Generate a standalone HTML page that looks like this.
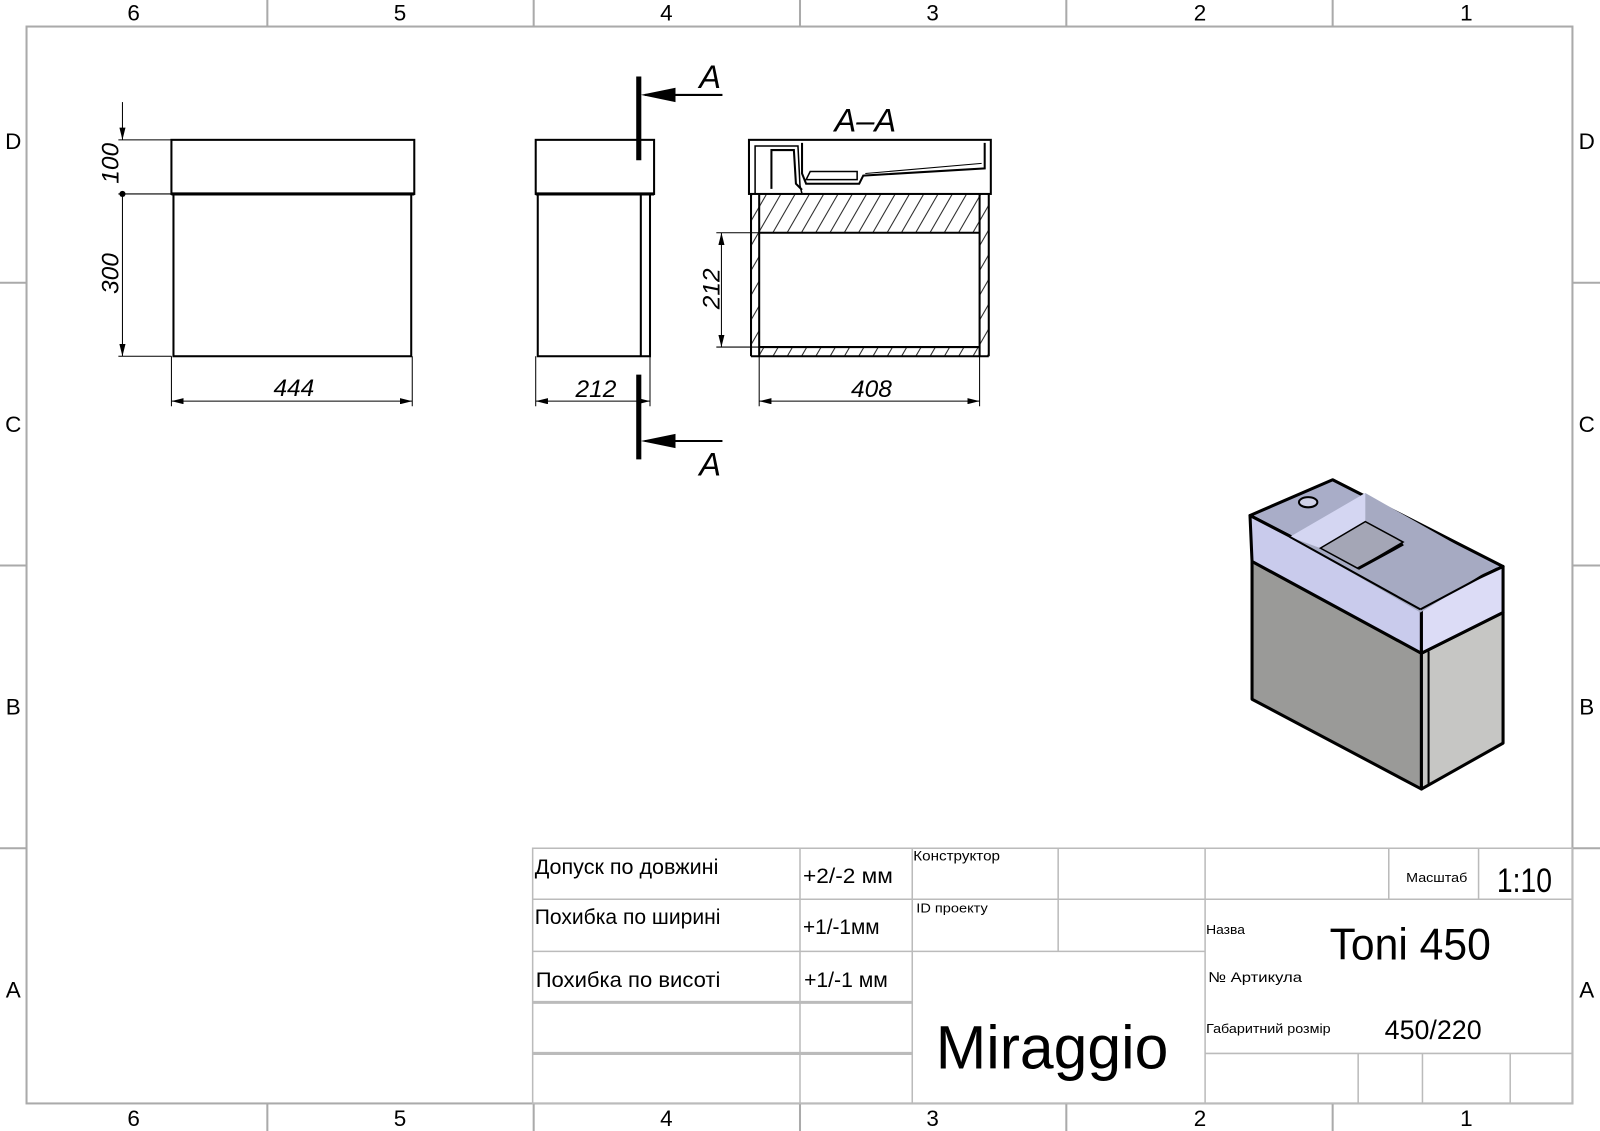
<!DOCTYPE html>
<html><head><meta charset="utf-8"><style>
html,body{margin:0;padding:0;background:#fff;width:1600px;height:1131px;overflow:hidden}
svg{display:block}
text{font-family:"Liberation Sans Narrow","Liberation Sans","DejaVu Sans",sans-serif;fill:#000}
</style></head><body>
<svg width="1600" height="1131" viewBox="0 0 1568 1108" preserveAspectRatio="none" xmlns="http://www.w3.org/2000/svg">
<defs>
<pattern id="h" width="14" height="14" patternUnits="userSpaceOnUse" patternTransform="skewX(-30)">
<line x1="7" y1="0" x2="7" y2="14" stroke="#000" stroke-width="1"/></pattern>
<marker id="ar" markerWidth="12" markerHeight="6" refX="12" refY="3" orient="auto" markerUnits="userSpaceOnUse"><path d="M0,0 L12,3 L0,6 z" fill="#000"/></marker>
<marker id="al" markerWidth="12" markerHeight="6" refX="0" refY="3" orient="auto" markerUnits="userSpaceOnUse"><path d="M12,0 L0,3 L12,6 z" fill="#000"/></marker>
</defs>
<g stroke="#aaa" stroke-width="2" fill="none">
<rect x="26" y="26" width="1515" height="1055"/>
<line x1="262" y1="0" x2="262" y2="26"/><line x1="523" y1="0" x2="523" y2="26"/><line x1="784" y1="0" x2="784" y2="26"/><line x1="1045" y1="0" x2="1045" y2="26"/><line x1="1306" y1="0" x2="1306" y2="26"/>
<line x1="262" y1="1081" x2="262" y2="1108"/><line x1="523" y1="1081" x2="523" y2="1108"/><line x1="784" y1="1081" x2="784" y2="1108"/><line x1="1045" y1="1081" x2="1045" y2="1108"/><line x1="1306" y1="1081" x2="1306" y2="1108"/>
<line x1="0" y1="277" x2="26" y2="277"/><line x1="0" y1="554" x2="26" y2="554"/><line x1="0" y1="831" x2="26" y2="831"/>
<line x1="1541" y1="277" x2="1568" y2="277"/><line x1="1541" y1="554" x2="1568" y2="554"/><line x1="1541" y1="831" x2="1568" y2="831"/>
</g>
<g font-size="22" text-anchor="middle" style="font-family:'Liberation Sans',sans-serif">
<text x="131" y="20">6</text><text x="392" y="20">5</text><text x="653" y="20">4</text><text x="914" y="20">3</text><text x="1176" y="20">2</text><text x="1437" y="20">1</text>
<text x="131" y="1103">6</text><text x="392" y="1103">5</text><text x="653" y="1103">4</text><text x="914" y="1103">3</text><text x="1176" y="1103">2</text><text x="1437" y="1103">1</text>
<text x="13" y="146">D</text><text x="13" y="423">C</text><text x="13" y="700">B</text><text x="13" y="977">A</text>
<text x="1555" y="146">D</text><text x="1555" y="423">C</text><text x="1555" y="700">B</text><text x="1555" y="977">A</text>
</g>
<g stroke="#000" fill="none" stroke-width="2">
<rect x="168" y="137" width="238" height="53"/>
<rect x="170" y="190" width="233" height="159"/>
<line x1="168" y1="190" x2="406" y2="190" stroke-width="3"/>
</g>
<g stroke="#000" stroke-width="1" fill="none">
<line x1="116" y1="137" x2="168" y2="137"/><line x1="116" y1="190" x2="168" y2="190"/><line x1="116" y1="349" x2="168" y2="349"/>
<line x1="120" y1="100" x2="120" y2="137" marker-end="url(#ar)"/>
<line x1="120" y1="190" x2="120" y2="349" marker-end="url(#ar)"/>
<line x1="168" y1="349" x2="168" y2="398"/><line x1="404" y1="349" x2="404" y2="398"/>
<line x1="168" y1="393" x2="404" y2="393" marker-start="url(#al)" marker-end="url(#ar)"/>
</g>
<circle cx="120" cy="190" r="3"/>
<g font-size="24" font-style="italic">
<text transform="translate(116,160) rotate(-90)" text-anchor="middle">100</text>
<text transform="translate(116,268) rotate(-90)" text-anchor="middle">300</text>
<text x="288" y="388" text-anchor="middle">444</text>
<text x="584" y="389" text-anchor="middle">212</text>
<text x="854" y="389" text-anchor="middle">408</text>
<text transform="translate(705,283) rotate(-90)" text-anchor="middle">212</text>
<text x="696" y="86" font-size="32" text-anchor="middle">A</text>
<text x="696" y="466" font-size="32" text-anchor="middle">A</text>
<text x="848" y="129" font-size="32" text-anchor="middle">A–A</text>
</g>
<g stroke="#000" fill="none" stroke-width="2">
<rect x="525" y="137" width="116" height="53"/>
<rect x="527" y="190" width="110" height="159"/>
<line x1="628" y1="190" x2="628" y2="349"/>
<line x1="525" y1="190" x2="641" y2="190" stroke-width="3"/>
</g>
<g stroke="#000" stroke-width="5"><line x1="626" y1="75" x2="626" y2="157"/><line x1="626" y1="367" x2="626" y2="450"/></g>
<g stroke="#000" stroke-width="2" fill="none">
<line x1="708" y1="93" x2="632" y2="93"/><line x1="708" y1="432" x2="632" y2="432"/>
</g>
<path d="M628,93 L662,86 L662,100 z"/><path d="M628,432 L662,425 L662,439 z"/>
<g stroke="#000" stroke-width="1" fill="none">
<line x1="525" y1="349" x2="525" y2="398"/><line x1="637" y1="349" x2="637" y2="398"/>
<line x1="525" y1="393" x2="637" y2="393" marker-start="url(#al)" marker-end="url(#ar)"/>
</g>
<rect x="744" y="190" width="216" height="38" fill="url(#h)"/>
<rect x="744" y="340" width="216" height="9" fill="url(#h)"/>
<rect x="736" y="190" width="8" height="159" fill="url(#h)"/>
<rect x="960" y="190" width="9" height="159" fill="url(#h)"/>
<g stroke="#000" fill="none" stroke-width="2">
<rect x="734" y="137" width="237" height="53"/>
<line x1="736" y1="190" x2="736" y2="349"/><line x1="969" y1="190" x2="969" y2="349"/>
<line x1="744" y1="190" x2="744" y2="349"/><line x1="960" y1="190" x2="960" y2="349"/>
<line x1="744" y1="228" x2="960" y2="228"/><line x1="744" y1="340" x2="960" y2="340"/>
<line x1="736" y1="349" x2="969" y2="349"/>
<path d="M740,190 L740,143 L782,143 L784,182 L786,190" stroke-width="1.5"/>
<path d="M756,185 L756,147 L778,147 L780,180 L786,186" />
<path d="M786,140 L786,170 L790,180 L842,180 L846,172 L965,165 L965,140"/>
<path d="M790,176 L794,168 L840,168 L840,176 Z" stroke-width="1.5"/>
<path d="M848,170 L962,160" stroke-width="1"/>
</g>
<g stroke="#000" stroke-width="1" fill="none">
<line x1="702" y1="228" x2="744" y2="228"/><line x1="702" y1="340" x2="744" y2="340"/>
<line x1="707" y1="228" x2="707" y2="340" marker-start="url(#al)" marker-end="url(#ar)"/>
<line x1="744" y1="349" x2="744" y2="398"/><line x1="960" y1="349" x2="960" y2="398"/>
<line x1="744" y1="393" x2="960" y2="393" marker-start="url(#al)" marker-end="url(#ar)"/>
</g>
<!-- isometric -->
<g stroke="#000" stroke-width="3" stroke-linejoin="round">
<polygon points="1227,550 1393,640 1393,773 1227,685" fill="#9a9a98"/>
<polygon points="1393,640 1473,600 1473,728 1393,773" fill="#c6c6c4"/>
<line x1="1400" y1="638" x2="1400" y2="770" stroke-width="2"/>
<polygon points="1225,505 1306,470 1473,555 1393,592" fill="#a9adc8"/>
<polygon points="1225,505 1393,592 1393,640 1227,550" fill="#c9cbec"/>
<polygon points="1393,592 1473,555 1473,600 1393,640" fill="#dcdcf6"/>
</g>
<polygon points="1264,526 1338,483 1465,555 1392,600" fill="#a6aac2"/>
<polygon points="1264,526 1338,483 1338,511 1294,537" fill="#d4d6f2"/>
<polygon points="1294,537 1338,511 1375,531 1331,557" fill="#a4a6b6" stroke="#000" stroke-width="1.5"/>
<line x1="1264" y1="526" x2="1392" y2="597" stroke="#000" stroke-width="2"/>
<line x1="1331" y1="557" x2="1375" y2="533" stroke="#000" stroke-width="3"/>
<line x1="1392" y1="597" x2="1467" y2="557" stroke="#000" stroke-width="2"/>
<ellipse cx="1282" cy="492" rx="9" ry="5" fill="#d0d2e8" stroke="#000" stroke-width="2"/>
<g stroke="#bbb" stroke-width="1.5" fill="none">
<rect x="522" y="831" width="1019" height="250"/>
<line x1="522" y1="881" x2="1541" y2="881"/>
<line x1="522" y1="932" x2="1181" y2="932"/>
<line x1="522" y1="982" x2="894" y2="982" stroke-width="3"/>
<line x1="522" y1="1032" x2="894" y2="1032" stroke-width="3"/>
<line x1="1181" y1="1032" x2="1541" y2="1032"/>
<line x1="784" y1="831" x2="784" y2="1081"/>
<line x1="894" y1="831" x2="894" y2="1081"/>
<line x1="1037" y1="831" x2="1037" y2="932"/>
<line x1="1181" y1="831" x2="1181" y2="1081"/>
<line x1="1361" y1="831" x2="1361" y2="881"/>
<line x1="1449" y1="831" x2="1449" y2="881"/>
<line x1="1331" y1="1032" x2="1331" y2="1081"/>
<line x1="1394" y1="1032" x2="1394" y2="1081"/>
<line x1="1480" y1="1032" x2="1480" y2="1081"/>
</g>
<g font-size="21">
<text x="524" y="856" textLength="180" lengthAdjust="spacingAndGlyphs">Допуск по довжині</text>
<text x="524" y="905" textLength="182" lengthAdjust="spacingAndGlyphs">Похибка по ширині</text>
<text x="525" y="967" textLength="181" lengthAdjust="spacingAndGlyphs">Похибка по висоті</text>
<text x="787" y="865" textLength="88" lengthAdjust="spacingAndGlyphs">+2/-2 мм</text>
<text x="787" y="915" textLength="75" lengthAdjust="spacingAndGlyphs">+1/-1мм</text>
<text x="788" y="967" textLength="82" lengthAdjust="spacingAndGlyphs">+1/-1 мм</text>
<text x="895" y="843" font-size="14" textLength="85" lengthAdjust="spacingAndGlyphs">Конструктор</text>
<text x="898" y="894" font-size="13" textLength="70" lengthAdjust="spacingAndGlyphs">ID проекту</text>
<text x="917" y="1047" font-size="60" textLength="228" lengthAdjust="spacingAndGlyphs">Miraggio</text>
<text x="1182" y="915" font-size="13" textLength="38" lengthAdjust="spacingAndGlyphs">Назва</text>
<text x="1303" y="940" font-size="44" textLength="158" lengthAdjust="spacingAndGlyphs">Toni 450</text>
<text x="1184" y="962" font-size="14" textLength="92" lengthAdjust="spacingAndGlyphs">№  Артикула</text>
<text x="1182" y="1012" font-size="13" textLength="122" lengthAdjust="spacingAndGlyphs">Габаритний розмір</text>
<text x="1357" y="1018" font-size="26" textLength="95" lengthAdjust="spacingAndGlyphs">450/220</text>
<text x="1378" y="864" font-size="13" textLength="60" lengthAdjust="spacingAndGlyphs">Масштаб</text>
<text x="1467" y="874" font-size="34" textLength="54" lengthAdjust="spacingAndGlyphs">1:10</text>
</g>
</svg>
</body></html>
